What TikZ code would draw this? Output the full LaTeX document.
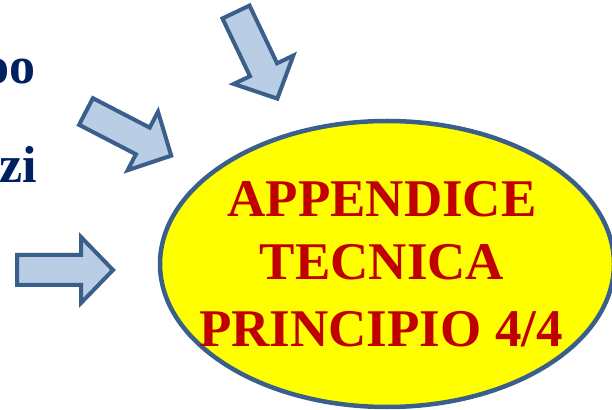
\documentclass[tikz,border=0pt]{standalone}
\usepackage{fontspec}
\setmainfont{Liberation Serif}
\definecolor{arrowline}{HTML}{3A5F8B}
\definecolor{arrowfill}{HTML}{B9CDE5}
\definecolor{titlered}{HTML}{C00000}
\definecolor{navy}{HTML}{002060}
\definecolor{ellfill}{HTML}{FFFF00}
\tikzset{
  blockarrow/.style={draw=arrowline, fill=arrowfill, line width=4pt, line join=miter},
  bigarrow/.pic={\path[blockarrow] (0,15) -- (64,15) -- (64,33) -- (96,0) -- (64,-33) -- (64,-15) -- (0,-15) -- cycle;},
  titletext/.style={text=titlered, font=\fontsize{53}{60}\selectfont\bfseries, inner sep=0pt, anchor=base},
  sidetext/.style={text=navy, font=\fontsize{52}{60}\selectfont\bfseries, inner sep=0pt, anchor=base east}
}
\begin{document}
\begin{tikzpicture}[x=1pt,y=1pt]
\clip (0,0) rectangle (612,409);
\fill[white] (0,0) rectangle (612,409);
% ellipse
\draw[draw=arrowline, fill=ellfill, line width=4.5pt] (387,145) ellipse [x radius=227, y radius=143];
% title text
\node[titletext] (t1) at (382,192) {APPENDICE};
\node[titletext] (t2) at (382,129) {TECNICA};
\node[titletext] (t3) at (381,62) {PRINCIPIO 4/4};
% side text (cut off)
\node[sidetext] (s1) at (36,325) {oo};
\node[sidetext] (s2) at (37,226) {zi};
% block arrows
\pic[rotate=-64.5] at (236,397) {bigarrow};
\pic[rotate=-27.4] at (86,297.5) {bigarrow};
\pic at (17,139) {bigarrow};
\end{tikzpicture}
\end{document}
